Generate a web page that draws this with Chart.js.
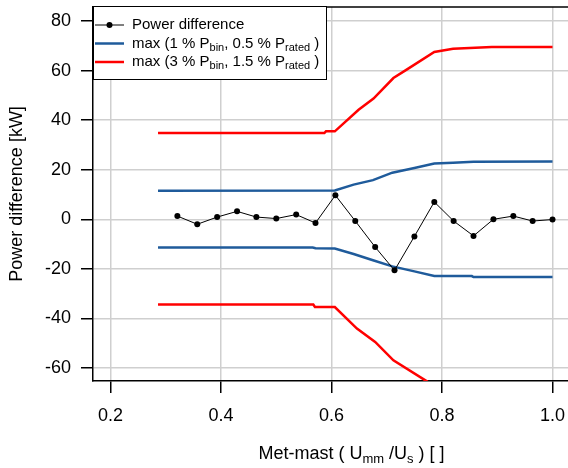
<!DOCTYPE html>
<html>
<head>
<meta charset="utf-8">
<script src="https://cdn.jsdelivr.net/npm/chart.js@4/dist/chart.umd.min.js"></script>
<style>
  html, body { margin: 0; padding: 0; background: #ffffff; }
  #wrap { width: 568px; height: 468px; position: relative; }
</style>
</head>
<body>
<div id="wrap"><canvas id="c" width="568" height="468"></canvas></div>
<script>
// ---- Data ----
const ratioX = [0.321, 0.357, 0.393, 0.429, 0.464, 0.5, 0.536, 0.571, 0.607, 0.643,
                0.679, 0.714, 0.75, 0.786, 0.821, 0.857, 0.893, 0.929, 0.964, 1.0];
const powerDiff = [1.3, -2.0, 0.9, 3.2, 0.9, 0.3, 1.9, -1.5, 9.7, -0.7,
                   -11.2, -20.6, -6.9, 7.0, -0.7, -6.7, 0.0, 1.3, -0.7, -0.1];

const blueUpX = [0.286, 0.606, 0.64, 0.675, 0.71, 0.75, 0.786, 0.82, 0.857, 1.0];
const blueUpY = [11.5, 11.6, 14.0, 15.8, 18.8, 20.7, 22.5, 22.8, 23.2, 23.3];
const blueLoX = [0.286, 0.566, 0.571, 0.606, 0.64, 0.675, 0.71, 0.75, 0.786, 0.854, 0.857, 1.0];
const blueLoY = [-11.4, -11.4, -11.7, -11.8, -14.0, -16.5, -19.0, -21.0, -22.9, -22.9, -23.3, -23.3];
const redUpX = [0.286, 0.587, 0.59, 0.606, 0.649, 0.676, 0.712, 0.736, 0.786, 0.82, 0.89, 1.0];
const redUpY = [34.8, 34.8, 35.5, 35.5, 44.2, 48.7, 57.0, 60.4, 67.5, 68.8, 69.5, 69.5];
const redLoX = [0.286, 0.567, 0.57, 0.606, 0.646, 0.679, 0.712, 0.772, 0.786, 0.82, 0.89, 1.0];
const redLoY = [-34.4, -34.4, -35.4, -35.4, -44.1, -49.5, -56.9, -65.3, -67.5, -68.8, -69.5, -69.5];

const xTicks = [0.2, 0.4, 0.6, 0.8, 1.0];
const yTicks = [-60, -40, -20, 0, 20, 40, 60, 80];

const legendLabels = ["Power difference", "max (1 % P|bin|, 0.5 % P|rated| )", "max (3 % P|bin|, 1.5 % P|rated| )"];
const xTitle = "Met-mast ( U|mm| /U|s| ) [ ]";
const yTitle = "Power difference [kW]";

const BLUE = '#1f5b9b';
const RED = '#ff0000';
const FONT = '"Liberation Sans", Arial, sans-serif';

function pts(xs, ys) { return xs.map((x, i) => ({x: x, y: ys[i]})); }

// draw text with |sub| segments
function drawRich(ctx, str, x, y, size, subSize, subDy, measureOnly) {
  const parts = str.split('|');
  let cx = x;
  parts.forEach((p, i) => {
    const sub = i % 2 === 1;
    ctx.font = (sub ? subSize : size) + 'px ' + FONT;
    if (!measureOnly) ctx.fillText(p, cx, y + (sub ? subDy : 0));
    cx += ctx.measureText(p).width;
  });
  return cx - x;
}

function noPad(s) { s.paddingTop = 0; s.paddingBottom = 0; s.paddingLeft = 0; s.paddingRight = 0; }

const decor = {
  id: 'decor',
  afterDraw(chart) {
    const ctx = chart.ctx;
    const a = chart.chartArea;
    ctx.save();
    // top border
    ctx.strokeStyle = '#000';
    ctx.lineWidth = 1.5;
    ctx.beginPath();
    ctx.moveTo(a.left, a.top);
    ctx.lineTo(a.right, a.top);
    ctx.stroke();

    // legend
    const lx = 93, ly = 6, lw = 233, lh = 73;
    ctx.fillStyle = '#fff';
    ctx.fillRect(lx, ly, lw, lh);
    ctx.lineWidth = 1;
    ctx.strokeStyle = '#000';
    ctx.strokeRect(lx + 0.5, ly + 0.5, lw, lh);
    const rows = [25, 43.5, 62];
    const cols = ['#000', BLUE, RED];
    rows.forEach((ry, i) => {
      ctx.strokeStyle = cols[i];
      ctx.lineWidth = i === 0 ? 1 : 2.5;
      ctx.beginPath();
      ctx.moveTo(95, ry);
      ctx.lineTo(124, ry);
      ctx.stroke();
      if (i === 0) {
        ctx.fillStyle = '#000';
        ctx.beginPath();
        ctx.arc(109.5, ry, 3, 0, Math.PI * 2);
        ctx.fill();
      }
      ctx.fillStyle = '#000';
      ctx.textBaseline = 'middle';
      ctx.textAlign = 'left';
      drawRich(ctx, legendLabels[i], 132, ry, 15, 11, 4, false);
    });

    // x title
    ctx.textBaseline = 'alphabetic';
    ctx.textAlign = 'left';
    ctx.fillStyle = '#000';
    const w = drawRich(ctx, xTitle, 0, 0, 18, 13, 4, true);
    drawRich(ctx, xTitle, 351.5 - w / 2, 459, 18, 13, 4, false);
    ctx.restore();
  }
};

new Chart(document.getElementById('c'), {
  type: 'scatter',
  data: {
    datasets: [
      { label: 'Power difference', data: pts(ratioX, powerDiff), showLine: true,
        borderColor: '#000', backgroundColor: '#000', borderWidth: 1,
        pointRadius: 3, pointBorderWidth: 0, pointBackgroundColor: '#000' },
      { label: 'blue upper', data: pts(blueUpX, blueUpY), showLine: true,
        borderColor: BLUE, borderWidth: 2.5, pointRadius: 0 },
      { label: 'blue lower', data: pts(blueLoX, blueLoY), showLine: true,
        borderColor: BLUE, borderWidth: 2.5, pointRadius: 0 },
      { label: 'red upper', data: pts(redUpX, redUpY), showLine: true,
        borderColor: RED, borderWidth: 2.5, pointRadius: 0 },
      { label: 'red lower', data: pts(redLoX, redLoY), showLine: true,
        borderColor: RED, borderWidth: 2.5, pointRadius: 0 }
    ]
  },
  options: {
    responsive: false,
    animation: false,
    devicePixelRatio: 1,
    layout: { autoPadding: false, padding: { left: 0, top: 7, right: 0, bottom: 0 } },
    plugins: { legend: { display: false }, tooltip: { enabled: false } },
    scales: {
      x: {
        type: 'linear', min: 0.1683, max: 1.028,
        afterFit(s) { s.height = 87; noPad(s); },
        afterBuildTicks(s) { s.ticks = xTicks.map(v => ({value: v})); },
        ticks: { font: { size: 18, family: FONT }, color: '#000', padding: 12,
                 maxRotation: 0, callback: v => v.toFixed(1) },
        grid: { color: '#cfcfcf', lineWidth: 1.5, drawTicks: true, tickLength: 12,
                tickColor: '#000', tickWidth: 1.5 },
        border: { display: true, color: '#000', width: 1.5 }
      },
      y: {
        type: 'linear', min: -65.24, max: 85.65,
        afterFit(s) { s.width = 93; noPad(s); },
        afterBuildTicks(s) { s.ticks = yTicks.map(v => ({value: v})); },
        ticks: { font: { size: 18, family: FONT }, color: '#000', padding: 10,
                 callback: v => String(v) },
        title: { display: true, text: yTitle, font: { size: 18, family: FONT },
                 color: '#000', padding: { top: 6, bottom: 0 } },
        grid: { color: '#cfcfcf', lineWidth: 1.5, drawTicks: true, tickLength: 12,
                tickColor: '#000', tickWidth: 1.5 },
        border: { display: true, color: '#000', width: 1.5 }
      }
    }
  },
  plugins: [decor]
});
</script>
</body>
</html>
